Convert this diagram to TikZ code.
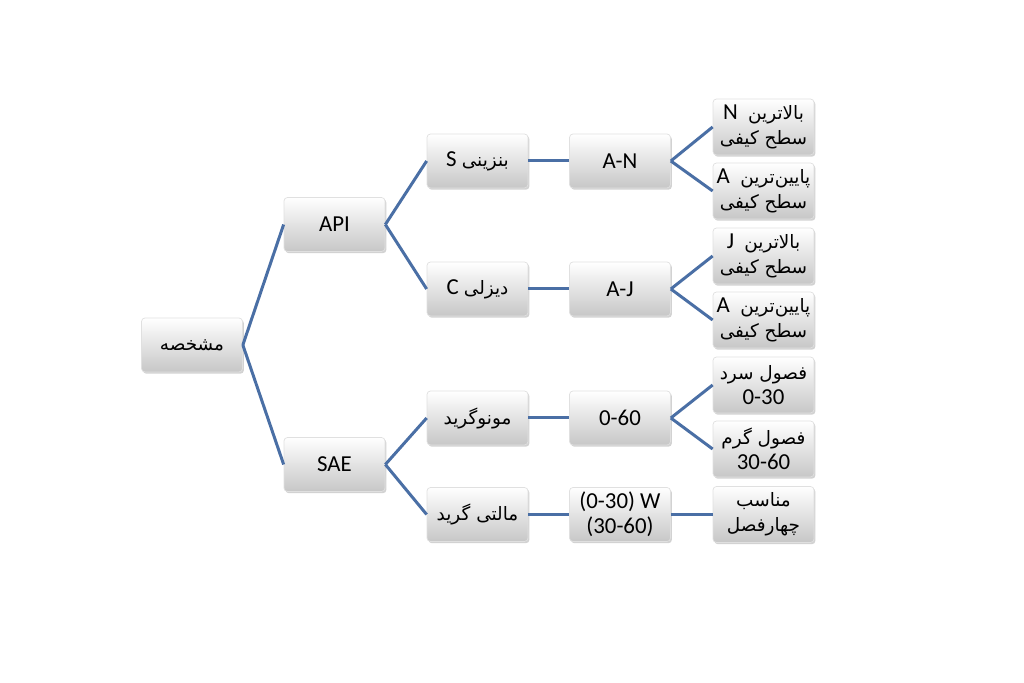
\documentclass[tikz,border=0pt]{standalone}
\usepackage{fontspec}
\setmainfont{Carlito}
\newfontfamily\arabicfont[Script=Arabic]{DejaVu Sans}
\TeXXeTstate=1
\usetikzlibrary{shadows}
\definecolor{linkblue}{HTML}{4A6FA5}
\def\fa#1{{\arabicfont\fontsize{10.5}{14}\selectfont\beginR #1\endR}}
\def\faL#1#2{\beginR{\arabicfont\fontsize{10.5}{14}\selectfont #1}\ #2\endR}
\def\faLL#1#2{\beginR{\arabicfont\fontsize{10.5}{14}\selectfont #1}\ \ #2\endR}
\tikzset{
  oilbox/.style={draw=black!12, rounded corners=2pt, top color=white, bottom color=black!22,
    minimum width=2.02cm, minimum height=1.08cm, inner sep=1pt, align=center,
    font=\fontsize{13}{14}\selectfont,
    drop shadow={opacity=0.35, shadow xshift=0.8pt, shadow yshift=-1pt}},
  gradebox/.style={oilbox, minimum height=1.12cm},
  link/.style={line width=1.7pt, color=linkblue}
}

\begin{document}
\begin{tikzpicture}
		%%%%% START %%%%%
		
		\fill[white] (0, 0) rectangle (20.48, 13.66);
		
		\node[oilbox] (root) at (3.84, 6.76) {\fa{مشخصه}};
		
		\node[oilbox] (api) at (6.69, 9.17) {API};
		\node[oilbox] (sae) at (6.69, 4.37) {SAE};
		
		\node[oilbox] (petrol) at (9.55, 10.44) {\faL{بنزینی}{S}};
		\node[oilbox] (diesel) at (9.55, 7.88) {\faL{دیزلی}{C}};
		\node[oilbox] (mono) at (9.55, 5.30) {\fa{مونوگرید}};
		\node[oilbox] (multi) at (9.55, 3.37) {\fa{مالتی گرید}};
		
		\node[oilbox] (an) at (12.40, 10.44) {A-N};
		\node[oilbox] (aj) at (12.40, 7.88) {A-J};
		\node[oilbox] (range) at (12.40, 5.30) {0-60};
		\node[oilbox] (wrange) at (12.40, 3.37) {(0-30) W\\(30-60)};
		
		\node[gradebox] (ntop) at (15.27, 11.12) {\faLL{بالاترین}{N}\\\fa{سطح کیفی}};
		\node[gradebox] (nlow) at (15.27, 9.84) {\faLL{پایین‌ترین}{A}\\\fa{سطح کیفی}};
		\node[gradebox] (jtop) at (15.27, 8.54) {\faLL{بالاترین}{J}\\\fa{سطح کیفی}};
		\node[gradebox] (jlow) at (15.27, 7.26) {\faLL{پایین‌ترین}{A}\\\fa{سطح کیفی}};
		\node[gradebox] (cold) at (15.27, 5.96) {\fa{فصول سرد}\\0-30};
		\node[gradebox] (warm) at (15.27, 4.68) {\fa{فصول گرم}\\30-60};
		\node[gradebox] (allyear) at (15.27, 3.37) {\fa{مناسب}\\\fa{چهارفصل}};
		
		\draw[link] (root.east) -- (api.west);
		\draw[link] (root.east) -- (sae.west);
		
		\draw[link] (api.east) -- (petrol.west);
		\draw[link] (api.east) -- (diesel.west);
		\draw[link] (sae.east) -- (mono.west);
		\draw[link] (sae.east) -- (multi.west);
		
		\draw[link] (petrol.east) -- (an.west);
		\draw[link] (diesel.east) -- (aj.west);
		\draw[link] (mono.east) -- (range.west);
		\draw[link] (multi.east) -- (wrange.west);
		
		\draw[link] (an.east) -- (ntop.west);
		\draw[link] (an.east) -- (nlow.west);
		\draw[link] (aj.east) -- (jtop.west);
		\draw[link] (aj.east) -- (jlow.west);
		\draw[link] (range.east) -- (cold.west);
		\draw[link] (range.east) -- (warm.west);
		\draw[link] (wrange.east) -- (allyear.west);
		
		%%%%% END %%%%%
	\end{tikzpicture}
\end{document}
